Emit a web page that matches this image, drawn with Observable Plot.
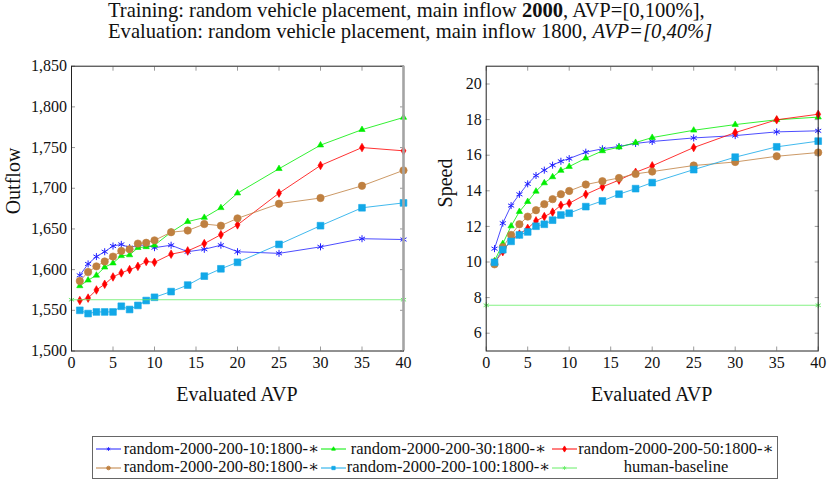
<!DOCTYPE html>
<html>
<head>
<meta charset="utf-8">
<script src="https://cdn.jsdelivr.net/npm/d3@7"></script>
<script src="https://cdn.jsdelivr.net/npm/@observablehq/plot@0.6"></script>
<style>
  html, body { margin: 0; padding: 0; background: #fff; }
  #page { position: relative; width: 830px; height: 480px; overflow: hidden; font-family: "Liberation Serif", "DejaVu Serif", serif; color: #111; }
  #page svg.plot { position: absolute; left: 0; top: 0; }
  .abs { position: absolute; white-space: nowrap; }
  .title { left: 108px; top: 0px; font-size: 20.6px; line-height: 21px; }
  .ylab { font-size: 20px; line-height: 20px; transform: translate(-50%, -50%) rotate(-90deg); }
  .xlab { font-size: 20px; line-height: 20px; transform: translateX(-50%); top: 384px; }
  .legbox { left: 92px; top: 436px; width: 686px; height: 43px; border: 1px solid #666; box-sizing: border-box; }
  .legtext { font-size: 16.5px; line-height: 18px; text-align: center; }
</style>
</head>
<body>
<div id="page"></div>
<script>
// ---------- data ----------
const avp = [1, 2, 3, 4, 5, 6, 7, 8, 9, 10, 12, 14, 16, 18, 20, 25, 30, 35, 40];

const seriesNames = [
  "random-2000-200-10:1800-∗",
  "random-2000-200-30:1800-∗",
  "random-2000-200-50:1800-∗",
  "random-2000-200-80:1800-∗",
  "random-2000-200-100:1800-∗"
];
const humanName = "human-baseline";

// Outflow (left panel)
const outflow10  = [1593, 1607, 1616, 1622, 1629, 1631, 1627, 1630, 1630, 1627, 1630, 1622, 1625, 1630, 1622, 1620, 1628, 1638, 1637];
const outflow30  = [1580, 1587, 1593, 1603, 1608, 1617, 1618, 1627, 1628, 1630, 1646, 1659, 1664, 1676, 1694, 1724, 1753, 1772, 1787];
const outflow50  = [1562, 1565, 1575, 1582, 1591, 1596, 1600, 1604, 1610, 1609, 1619, 1623, 1632, 1643, 1655, 1694, 1728, 1750, 1746];
const outflow80  = [1586, 1597, 1604, 1610, 1616, 1623, 1625, 1632, 1633, 1636, 1646, 1648, 1656, 1654, 1663, 1681, 1688, 1703, 1722];
const outflow100 = [1550, 1546, 1548, 1548, 1548, 1555, 1551, 1556, 1562, 1566, 1573, 1581, 1592, 1601, 1609, 1631, 1654, 1676, 1682];

// Speed (right panel)
const speed10  = [10.75, 12.18, 13.17, 13.80, 14.39, 14.86, 15.16, 15.44, 15.66, 15.81, 16.17, 16.36, 16.49, 16.66, 16.77, 16.97, 17.10, 17.31, 17.37];
const speed30  = [10.06, 11.03, 12.02, 12.83, 13.39, 13.97, 14.44, 14.78, 15.14, 15.36, 15.83, 16.24, 16.45, 16.71, 16.99, 17.40, 17.72, 17.99, 18.14];
const speed50  = [9.96, 10.58, 11.24, 11.57, 11.89, 12.31, 12.55, 12.80, 13.19, 13.30, 13.80, 14.22, 14.60, 15.04, 15.40, 16.43, 17.27, 17.99, 18.30];
const speed80  = [9.87, 10.83, 11.52, 12.12, 12.55, 12.91, 13.25, 13.53, 13.81, 13.99, 14.35, 14.54, 14.72, 14.95, 15.08, 15.42, 15.62, 15.94, 16.15];
const speed100 = [9.98, 10.69, 11.16, 11.52, 11.69, 12.01, 12.12, 12.35, 12.64, 12.74, 13.11, 13.43, 13.81, 14.12, 14.46, 15.19, 15.89, 16.47, 16.79];

// human baseline (constant, drawn from x = 0 to 40)
const humanX = [0, 40];
const humanOutflow = [1563, 1563];
const humanSpeed = [7.57, 7.57];

// ticks
const xTicks = [0, 5, 10, 15, 20, 25, 30, 35, 40];
const outflowTicks = [1500, 1550, 1600, 1650, 1700, 1750, 1800, 1850];
const speedTicks = [6, 8, 10, 12, 14, 16, 18, 20];
const xDomain = [0, 40];
const outflowDomain = [1500, 1850];
const speedDomain = [5, 21];

// ---------- styles ----------
const styles = [
  {color: "#2020ff", symbol: "asterisk", r: 3.3, filled: false},
  {color: "#00ee00", symbol: "triangle2", r: 3.0, filled: true},
  {color: "#ff0000", symbol: "diamond", r: 2.6, filled: true},
  {color: "#bf8040", symbol: "circle", r: 3.7, filled: true},
  {color: "#12a8e8", symbol: "square", r: 3.8, filled: true}
];
const humanStyle = {color: "#66ee66", symbol: "asterisk", r: 2.8, filled: false};

function rowsOf(xs, ys) { return xs.map((x, i) => ({x, y: ys[i]})); }

function seriesMarks(rows, st) {
  return [
    Plot.line(rows, {x: "x", y: "y", stroke: st.color, strokeWidth: 1, strokeOpacity: 0.8}),
    Plot.dot(rows, {
      x: "x", y: "y", symbol: st.symbol, r: st.r,
      fill: st.filled ? st.color : "none",
      stroke: st.color, strokeWidth: st.filled ? 0.6 : 1
    })
  ];
}

function makePanel({values, human, yDomain, yTicks, yFormat, mLeft, mRight, thickRight}) {
  const marks = [];
  values.forEach((vals, i) => marks.push(...seriesMarks(rowsOf(avp, vals), styles[i])));
  marks.push(...seriesMarks(rowsOf(humanX, human), humanStyle));
  // inner ticks on all four sides
  marks.push(Plot.axisX({ticks: xTicks, anchor: "bottom", tickSize: -4, fill: "none", stroke: "#9a9a9a", label: null}));
  marks.push(Plot.axisX({ticks: xTicks, anchor: "top", tickSize: -4, fill: "none", stroke: "#9a9a9a", label: null}));
  marks.push(Plot.axisY({ticks: yTicks, anchor: "left", tickSize: -4, fill: "none", stroke: "#9a9a9a", label: null}));
  marks.push(Plot.axisY({ticks: yTicks, anchor: "right", tickSize: -4, fill: "none", stroke: "#9a9a9a", label: null}));
  // tick labels
  marks.push(Plot.axisX({ticks: xTicks, anchor: "bottom", tickSize: 0, tickPadding: 5.5, fontSize: 16, fill: "#111", label: null}));
  marks.push(Plot.axisY({ticks: yTicks, anchor: "left", tickSize: 0, tickPadding: 4.5, fontSize: 16, fill: "#111", tickFormat: yFormat, label: null}));
  marks.push(Plot.frame({stroke: "#222", strokeWidth: 1}));
  if (thickRight) marks.push(Plot.ruleX([xDomain[1]], {stroke: "#a4a4a4", strokeWidth: 2.6}));
  const svg = Plot.plot({
    width: 830, height: 480,
    marginLeft: mLeft, marginRight: mRight, marginTop: 65.7, marginBottom: 129.5,
    x: {domain: xDomain, label: null},
    y: {domain: yDomain, label: null},
    style: {fontFamily: "'Liberation Serif', 'DejaVu Serif', serif", fontSize: "16px", background: "transparent", overflow: "visible"},
    marks
  });
  svg.classList.add("plot");
  return svg;
}

const page = document.getElementById("page");

page.appendChild(makePanel({
  values: [outflow10, outflow30, outflow50, outflow80, outflow100],
  human: humanOutflow, yDomain: outflowDomain, yTicks: outflowTicks,
  yFormat: d3.format(","), mLeft: 71, mRight: 427, thickRight: true
}));
page.appendChild(makePanel({
  values: [speed10, speed30, speed50, speed80, speed100],
  human: humanSpeed, yDomain: speedDomain, yTicks: speedTicks,
  yFormat: d => String(d), mLeft: 485.7, mRight: 12.3, thickRight: false
}));

// ---------- texts ----------
function addDiv(cls, html, css) {
  const d = document.createElement("div");
  d.className = "abs " + cls;
  d.innerHTML = html;
  Object.assign(d.style, css || {});
  page.appendChild(d);
  return d;
}
addDiv("title", "Training: random vehicle placement, main inflow <b>2000</b>, AVP=[0,100%],<br>Evaluation: random vehicle placement, main inflow 1800, <i>AVP=[0,40%]</i>");
addDiv("ylab", "Outflow", {left: "13px", top: "181px"});
addDiv("ylab", "Speed", {left: "445px", top: "183px"});
addDiv("xlab", "Evaluated AVP", {left: "237px"});
addDiv("xlab", "Evaluated AVP", {left: "651.7px"});

// ---------- legend ----------
addDiv("legbox", "");
const legendEntries = [
  {name: seriesNames[0], st: styles[0], sx: 96, cell: [122, 321], y: 449},
  {name: seriesNames[1], st: styles[1], sx: 321, cell: [346, 551], y: 449},
  {name: seriesNames[2], st: styles[2], sx: 552, cell: [578, 774], y: 449},
  {name: seriesNames[3], st: styles[3], sx: 96, cell: [122, 321], y: 467.5},
  {name: seriesNames[4], st: styles[4], sx: 321, cell: [346, 551], y: 467.5},
  {name: humanName, st: humanStyle, sx: 552, cell: [578, 774], y: 467.5}
];
legendEntries.forEach(e => {
  const ns = "http://www.w3.org/2000/svg";
  const s = document.createElementNS(ns, "svg");
  s.setAttribute("width", 25); s.setAttribute("height", 12);
  s.style.position = "absolute"; s.style.left = e.sx + "px"; s.style.top = (e.y - 6) + "px";
  const ln = document.createElementNS(ns, "line");
  ln.setAttribute("x1", 0); ln.setAttribute("x2", 25); ln.setAttribute("y1", 6); ln.setAttribute("y2", 6);
  ln.setAttribute("stroke", e.st.color); ln.setAttribute("stroke-width", 1);
  s.appendChild(ln);
  const symMap = {asterisk: d3.symbolAsterisk, triangle2: d3.symbolTriangle2, diamond: d3.symbolDiamond, circle: d3.symbolCircle, square: d3.symbolSquare};
  const p = document.createElementNS(ns, "path");
  p.setAttribute("d", d3.symbol(symMap[e.st.symbol], 11)());
  p.setAttribute("transform", "translate(12.5,6)");
  p.setAttribute("fill", e.st.filled ? e.st.color : "none");
  p.setAttribute("stroke", e.st.color);
  p.setAttribute("stroke-width", 0.8);
  s.appendChild(p);
  page.appendChild(s);
  addDiv("legtext", e.name, {left: e.cell[0] + "px", width: (e.cell[1] - e.cell[0]) + "px", top: (e.y - 9.5) + "px"});
});
</script>
</body>
</html>
